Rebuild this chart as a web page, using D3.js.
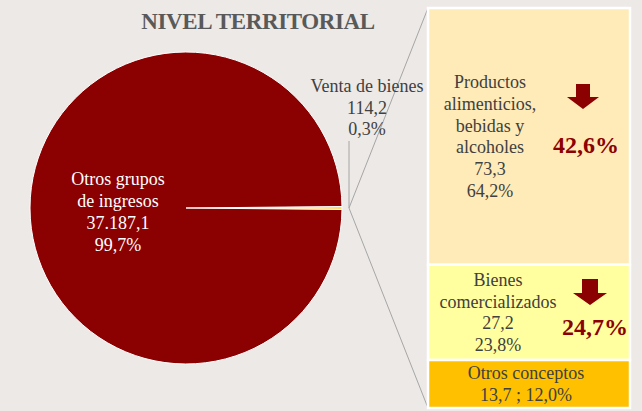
<!DOCTYPE html>
<html>
<head>
<meta charset="utf-8">
<script src="https://cdn.jsdelivr.net/npm/d3@7"></script>
<style>
  body { margin: 0; background: #ece9e7; }
  svg { display: block; }
</style>
</head>
<body>
<div id="chart"></div>
<script>
// datos
var titulo = "NIVEL TERRITORIAL";
var pieNames = [["Venta de bienes"], ["Otros grupos", "de ingresos"]];
var pieValues = [114.2, 37187.1];
var piePct = [0.3, 99.7];
var detNames = [["Productos", "alimenticios,", "bebidas  y", "alcoholes"], ["Bienes", "comercializados"], ["Otros conceptos"]];
var detValues = [73.3, 27.2, 13.7];
var detPct = [64.2, 23.8, 12.0];
var detChange = [42.6, 24.7, null];

var W = 642, H = 411;
var bg = "#ece9e7", pieRed = "#8b0000", sliver = "#ffd966";
var boxColors = ["#ffebb7", "#ffff9f", "#ffc000"];
var textC = "#404040", lineC = "#a6a6a6", redC = "#8b0000";
var font = "'Liberation Serif', 'Times New Roman', serif";

var es = d3.formatLocale({ decimal: ",", thousands: ".", grouping: [3], currency: ["", ""] });
var fNum = es.format(",.1f");

var svg = d3.select("#chart")
    .append("svg")
    .attr("width", W)
    .attr("height", H);

svg.append("rect").attr("width", W).attr("height", H).attr("fill", bg);

svg.append("text")
    .attr("x", 258)
    .attr("y", 29)
    .attr("text-anchor", "middle")
    .attr("font-family", font)
    .attr("font-weight", "bold")
    .attr("font-size", "23px")
    .attr("letter-spacing", "-0.4px")
    .attr("fill", "#595959")
    .text(titulo);

// torta
var cx = 186, cy = 208, radius = 156;
var total = d3.sum(pieValues);
var half = Math.PI * pieValues[0] / total;
var pie = d3.pie().sort(null)
    .startAngle(Math.PI / 2 - half)
    .endAngle(Math.PI / 2 - half + 2 * Math.PI);
var arcs = pie(pieValues);
var arc = d3.arc().innerRadius(0).outerRadius(radius);

var g = svg.append("g").attr("transform", "translate(" + cx + "," + cy + ")");
g.selectAll("path")
    .data(arcs)
    .enter()
    .append("path")
    .attr("d", arc)
    .attr("fill", function (d, i) { return i === 0 ? sliver : pieRed; })
    .attr("stroke", "#ffffff")
    .attr("stroke-width", 1);

// etiqueta grande (blanca) dentro de la torta
var bigLines = pieNames[1].concat([fNum(pieValues[1]), es.format(".1f")(piePct[1]) + "%"]);
svg.append("text")
    .attr("font-family", font)
    .attr("font-size", "18px")
    .attr("fill", "#ffffff")
    .attr("text-anchor", "middle")
    .selectAll("tspan")
    .data(bigLines)
    .enter()
    .append("tspan")
    .attr("x", 118)
    .attr("y", function (d, i) { return 185 + i * 22; })
    .text(function (d) { return d; });

// estructura del desglose (barra apilada)
var y = d3.scaleLinear().domain([0, d3.sum(detValues)]).range([8, 408]);
var x0 = 428, x1 = 630;
var cum = 0;
var segs = detValues.map(function (v, i) {
    var s = { i: i, y0: y(cum), y1: y(cum + v) };
    cum += v;
    return s;
});

// lineas guia
var ang = arcs[0].startAngle + half;
var jx = cx + Math.sin(ang) * (radius + 7);
var jy = cy - Math.cos(ang) * (radius + 7);
svg.append("line")
    .attr("x1", jx).attr("y1", 141).attr("x2", jx).attr("y2", jy)
    .attr("stroke", lineC).attr("stroke-width", 1);
svg.append("line")
    .attr("x1", jx).attr("y1", jy).attr("x2", x0).attr("y2", y(0))
    .attr("stroke", lineC).attr("stroke-width", 1);
svg.append("line")
    .attr("x1", jx).attr("y1", jy).attr("x2", x0).attr("y2", y(d3.sum(detValues)))
    .attr("stroke", lineC).attr("stroke-width", 1);

// etiqueta venta de bienes
var ventaLines = pieNames[0].concat([fNum(pieValues[0]), es.format(".1f")(piePct[0]) + "%"]);
svg.append("text")
    .attr("font-family", font)
    .attr("font-size", "18px")
    .attr("fill", textC)
    .attr("text-anchor", "middle")
    .selectAll("tspan")
    .data(ventaLines)
    .enter()
    .append("tspan")
    .attr("x", 367)
    .attr("y", function (d, i) { return 92 + i * 21.5; })
    .text(function (d) { return d; });

svg.selectAll("rect.seg")
    .data(segs)
    .enter()
    .append("rect")
    .attr("class", "seg")
    .attr("x", x0)
    .attr("y", function (d) { return d.y0; })
    .attr("width", x1 - x0)
    .attr("height", function (d) { return d.y1 - d.y0; })
    .attr("fill", function (d) { return boxColors[d.i]; })
    .attr("stroke", "#ffffff")
    .attr("stroke-width", 2.5);

// textos de cada segmento
var lineH = 21.7;
segs.forEach(function (s) {
    var i = s.i;
    var lines, tx;
    if (i === 2) {
        lines = [detNames[i][0], es.format(".1f")(detValues[i]) + " ; " + es.format(".1f")(detPct[i]) + "%"];
        tx = 526;
    } else {
        lines = detNames[i].concat([es.format(".1f")(detValues[i]), es.format(".1f")(detPct[i]) + "%"]);
        tx = i === 0 ? 490 : 498;
    }
    var mid = (s.y0 + s.y1) / 2;
    var startY = mid - (lines.length - 1) * lineH / 2 + 6;
    svg.append("text")
        .attr("font-family", font)
        .attr("font-size", "18px")
        .attr("fill", textC)
        .attr("text-anchor", "middle")
        .selectAll("tspan")
        .data(lines)
        .enter()
        .append("tspan")
        .attr("x", tx)
        .attr("y", function (d, k) { return startY + k * lineH; })
        .text(function (d) { return d; });

    if (detChange[i] !== null) {
        var px = i === 0 ? 586 : 595;
        var py = i === 0 ? mid + 17 : mid + 23;
        var ax = i === 0 ? 583 : 590;
        var ay = i === 0 ? 84 : 279;
        var hw = i === 0 ? 16 : 17, sw = i === 0 ? 7 : 8;
        var sh = i === 0 ? 13 : 14, hh = 12;
        svg.append("path")
            .attr("d", "M" + (ax - sw) + "," + ay + "H" + (ax + sw) + "V" + (ay + sh) +
                "H" + (ax + hw) + "L" + ax + "," + (ay + sh + hh) + "L" + (ax - hw) + "," + (ay + sh) +
                "H" + (ax - sw) + "Z")
            .attr("fill", redC);
        svg.append("text")
            .attr("x", px)
            .attr("y", py)
            .attr("text-anchor", "middle")
            .attr("font-family", font)
            .attr("font-weight", "bold")
            .attr("font-size", "24px")
            .attr("fill", redC)
            .text(es.format(".1f")(detChange[i]) + "%");
    }
});
</script>
</body>
</html>
